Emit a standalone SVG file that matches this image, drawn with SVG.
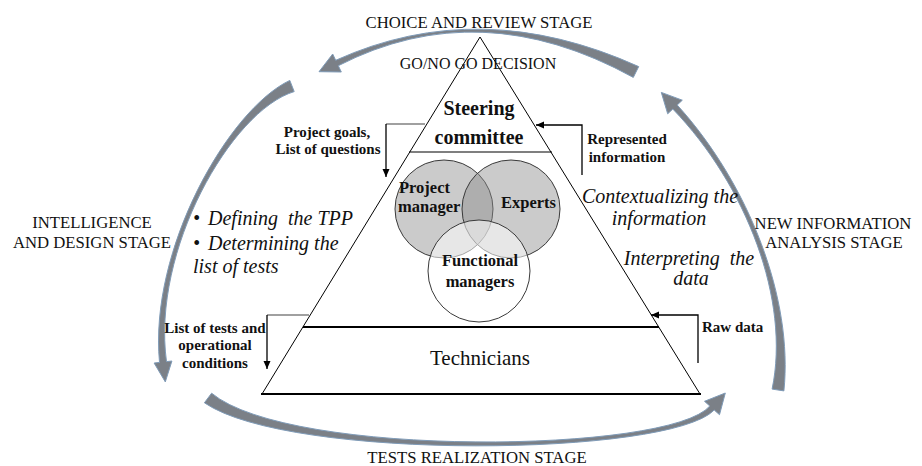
<svg xmlns="http://www.w3.org/2000/svg" width="922" height="466" viewBox="0 0 922 466">
<style>
.stage{font-family:"Liberation Serif","Times New Roman",serif;font-size:16.7px;fill:#111;text-anchor:middle}
.lbl{font-family:"Liberation Serif","Times New Roman",serif;font-size:15px;font-weight:bold;fill:#111}
.it{font-family:"Liberation Serif","Times New Roman",serif;font-size:20px;font-style:italic;fill:#111}
.circ{font-family:"Liberation Serif","Times New Roman",serif;font-size:16.5px;font-weight:bold;fill:#111}
.big{font-family:"Liberation Serif","Times New Roman",serif;font-size:20.5px;fill:#111;text-anchor:middle}
.cyc{fill:#7b8087;stroke:#7f9bb8;stroke-width:1;stroke-linejoin:round}
.edge{fill:none;stroke:#000;stroke-width:1}
.conn{fill:none;stroke:#000;stroke-width:1.3}
.gconn{fill:none;stroke:#808080;stroke-width:1.5}
.venn{stroke:#3a3a3a;stroke-width:1}
</style>
<defs>
<marker id="ah" markerWidth="9" markerHeight="8" refX="8" refY="4" orient="auto" markerUnits="userSpaceOnUse">
<path d="M0,0.5 L8,4 L0,7.5 Z" fill="#000"/>
</marker>
</defs>
<g id="cycle-arrows">
<path class="cyc" d="M 638.7,66.6 Q 480,-5 335.7,60.3 L 332.7,54 L 319,71.7 L 341.3,72 L 338.3,65.7 Q 480,-7 633.3,77.4 Z"/>
<path class="cyc" d="M 289.8,80.4 C 228.7,109.3 148.7,249.3 159.5,362.4 L 154.1,363 L 165.3,381.9 L 171.9,361 L 166.5,361.6 C 151.3,250.7 231.3,110.7 294.2,91.6 Z"/>
<path class="cyc" d="M 204.4,402.8 C 290,461.5 670,456.5 714.2,410 L 719.5,414.7 L 725.3,393 L 704.5,401.3 L 709.8,406 C 670,453.5 290,458.5 211.6,393.2 Z"/>
<path class="cyc" d="M 783.9,390.9 C 793.4,299.5 749.4,184.5 677.2,105 L 682.3,100.2 L 661.3,92.4 L 667.7,113.8 L 672.8,109 C 746.6,185.5 790.6,300.5 772.1,389.1 Z"/>
</g>
<g id="pyramid">
<polyline class="edge" points="262,394 480,37 700,394"/>
<line x1="261" y1="394" x2="701" y2="394" stroke="#000" stroke-width="2"/>
</g>
<g id="node-steering">
<line x1="409" y1="152" x2="552" y2="152" stroke="#000" stroke-width="1.2"/>
<text class="big" x="479" y="115" font-weight="bold" style="font-size:20px">Steering</text>
<text class="big" x="479" y="144" font-weight="bold" style="font-size:20px">committee</text>
</g>
<g id="node-technicians">
<line x1="303" y1="327" x2="659" y2="327" stroke="#000" stroke-width="2"/>
<text class="big" x="480" y="365" style="font-size:21px">Technicians</text>
</g>
<g id="node-project-manager">
<circle class="venn" cx="444" cy="209" r="49" fill="#8c8c8c" fill-opacity="0.45"/>
</g>
<g id="node-experts">
<circle class="venn" cx="511" cy="209" r="49" fill="#8c8c8c" fill-opacity="0.45"/>
</g>
<g id="node-functional">
<circle class="venn" cx="479" cy="271" r="51" fill="#ffffff" fill-opacity="0.55"/>
</g>
<g id="venn-labels">
<text class="circ" x="399" y="193">Project</text>
<text class="circ" x="398" y="212">manager</text>
<text class="circ" x="501" y="208">Experts</text>
<text class="circ" x="480" y="266" text-anchor="middle">Functional</text>
<text class="circ" x="480" y="287" text-anchor="middle">managers</text>
</g>
<g id="connectors">
<polyline class="gconn" points="425,124 386,124"/>
<polyline class="conn" points="386,124 386,177" marker-end="url(#ah)"/>
<polyline class="conn" points="582,175 582,125 536,125" marker-end="url(#ah)"/>
<polyline class="gconn" points="309,315 267,315"/>
<polyline class="conn" points="267,315 267,369" marker-end="url(#ah)"/>
<polyline class="conn" points="698,363 698,315 651,315" marker-end="url(#ah)"/>
</g>
<g id="connector-labels">
<text class="lbl" x="327" y="137" text-anchor="middle">Project goals,</text>
<text class="lbl" x="328" y="154" text-anchor="middle">List of questions</text>
<text class="lbl" x="627" y="144" text-anchor="middle">Represented</text>
<text class="lbl" x="627" y="162" text-anchor="middle">information</text>
<text class="lbl" x="215" y="333" text-anchor="middle">List of tests and</text>
<text class="lbl" x="215" y="350" text-anchor="middle">operational</text>
<text class="lbl" x="215" y="368" text-anchor="middle">conditions</text>
<text class="lbl" x="702" y="332">Raw data</text>
</g>
<g id="stage-labels">
<text class="stage" x="479" y="28">CHOICE AND REVIEW STAGE</text>
<text class="stage" x="478" y="69" style="font-size:16px">GO/NO GO DECISION</text>
<text class="stage" x="92" y="228">INTELLIGENCE</text>
<text class="stage" x="92" y="248">AND DESIGN STAGE</text>
<text class="stage" x="833" y="229">NEW INFORMATION</text>
<text class="stage" x="834" y="248">ANALYSIS STAGE</text>
<text class="stage" x="477" y="463">TESTS REALIZATION STAGE</text>
</g>
<g id="activities">
<text class="it" x="193" y="225">•</text>
<text class="it" x="208" y="225" xml:space="preserve">Defining  the TPP</text>
<text class="it" x="193" y="250">•</text>
<text class="it" x="208" y="250">Determining the</text>
<text class="it" x="193" y="273">list of tests</text>
<text class="it" x="660" y="203" text-anchor="middle">Contextualizing the</text>
<text class="it" x="659" y="225" text-anchor="middle">information</text>
<text class="it" x="689" y="265" text-anchor="middle" xml:space="preserve">Interpreting  the</text>
<text class="it" x="691" y="285" text-anchor="middle">data</text>
</g>
</svg>
